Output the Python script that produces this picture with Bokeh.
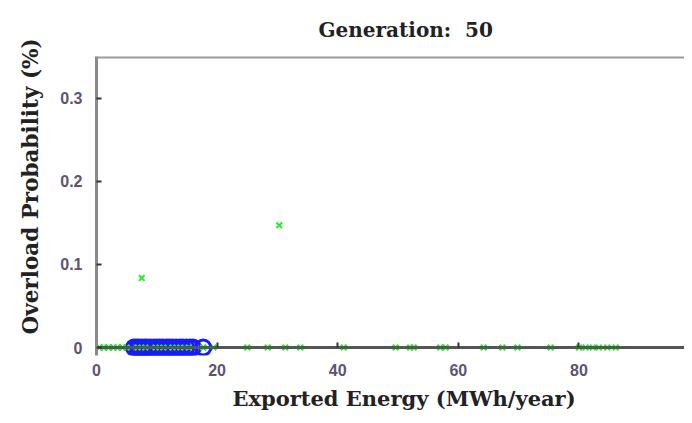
from bokeh.plotting import figure
from bokeh.models import Span, FixedTicker, Range1d, Title, LinearAxis
from bokeh.embed import file_html
from bokeh.resources import INLINE

# Data
green_x = [0.5, 1.2, 2.0, 2.8, 3.5, 4.3, 5.0, 6.8, 8.1, 9.8, 11.1, 12.6, 13.9, 15.3, 17.7,
           19.4, 25.0, 28.4, 31.3, 33.8, 41.0, 49.6, 52.0, 52.6, 57.0, 57.9, 64.2, 67.3,
           69.8, 75.3, 80.0, 81.1, 82.3, 83.3, 84.7, 86.1, 7.5, 30.3]
green_y = [0.0] * 36 + [0.0836, 0.147]

blue_x = [6.2, 6.6, 7.0, 7.5, 8.0, 8.4, 8.9, 9.5, 10.0, 10.5, 11.0, 11.6, 12.1, 12.6,
          13.2, 13.8, 14.3, 14.9, 15.5, 16.0, 17.7]
blue_y = [0.0] * len(blue_x)

x_ticks = [0, 20, 40, 60, 80, 100]
y_ticks = [0, 0.1, 0.2, 0.3]
x_end = 97.5
y_start = -0.0096
y_end = 0.35

title_text = "Generation:\u00a0 50"
xlabel_text = "Exported Energy (MWh/year)"
ylabel_text = "Overload Probability (%)"

LABEL_FONT = "DejaVu Serif"
TICK_FONT = "Liberation Sans"

p = figure(width=684, height=415, output_backend="svg", toolbar_location=None,
           x_range=Range1d(0, x_end), y_range=Range1d(y_start, y_end),
           min_border_left=96, min_border_right=0, min_border_top=55, min_border_bottom=59)
p.outline_line_color = None
p.grid.visible = False
p.background_fill_color = "white"
p.border_fill_color = "white"

p.title.text = title_text
p.title.align = "left"
p.title.offset = 222
p.title.text_font = LABEL_FONT
p.title.text_font_style = "bold"
p.title.text_font_size = "20px"
p.title.text_color = "#222222"
p.title.standoff = 30

p.scatter(green_x, green_y, marker="x", size=8, line_color="#22ee22", line_width=2)
p.scatter(blue_x, blue_y, marker="circle", size=15, fill_color=None,
          line_color="#1a1aff", line_width=3)
p.scatter(green_x[:15], green_y[:15], marker="x", size=8, line_color="#22ee22", line_width=2)

# x axis line and ticks sitting at y = 0
xa = p.xaxis[0]
xa.ticker = FixedTicker(ticks=x_ticks)
xa.fixed_location = 0
xa.axis_line_color = "#555555"
xa.axis_line_width = 3
xa.major_tick_in = 5
xa.major_tick_out = 0
xa.major_tick_line_color = "#333333"
xa.major_tick_line_width = 2
xa.minor_tick_line_color = None
xa.major_label_text_color = None
xa.major_label_text_font_size = "1px"

# x tick labels
xl = LinearAxis(ticker=FixedTicker(ticks=x_ticks), axis_line_color=None,
                major_tick_line_color=None, minor_tick_line_color=None,
                major_label_standoff=2, major_label_text_font=TICK_FONT,
                major_label_text_font_style="bold", major_label_text_font_size="16px",
                major_label_text_color="#5a5570")
p.add_layout(xl, "below")

ya = p.yaxis[0]
ya.ticker = FixedTicker(ticks=y_ticks)
ya.axis_line_color = "#8a8a8a"
ya.axis_line_width = 3
ya.major_tick_in = 5
ya.major_tick_out = 0
ya.major_tick_line_color = "#333333"
ya.major_tick_line_width = 2
ya.minor_tick_line_color = None
ya.major_label_standoff = 14
ya.major_label_text_font = TICK_FONT
ya.major_label_text_font_style = "bold"
ya.major_label_text_font_size = "16px"
ya.major_label_text_color = "#5a5570"

xlabel = Title(text=xlabel_text, align="left", offset=136,
               text_font=LABEL_FONT, text_font_style="bold",
               text_font_size="21px", text_color="#222222", standoff=10)
p.add_layout(xlabel, "below")

ylabel = Title(text=ylabel_text, align="left", offset=21,
               text_font=LABEL_FONT, text_font_style="bold",
               text_font_size="21.5px", text_color="#222222", standoff=30)
p.add_layout(ylabel, "left")

top = Span(location=y_end, dimension="width", line_color="#9a9a9a", line_width=4)
p.add_layout(top)

out = file_html(p, INLINE)
open("out.html", "w").write(out)
